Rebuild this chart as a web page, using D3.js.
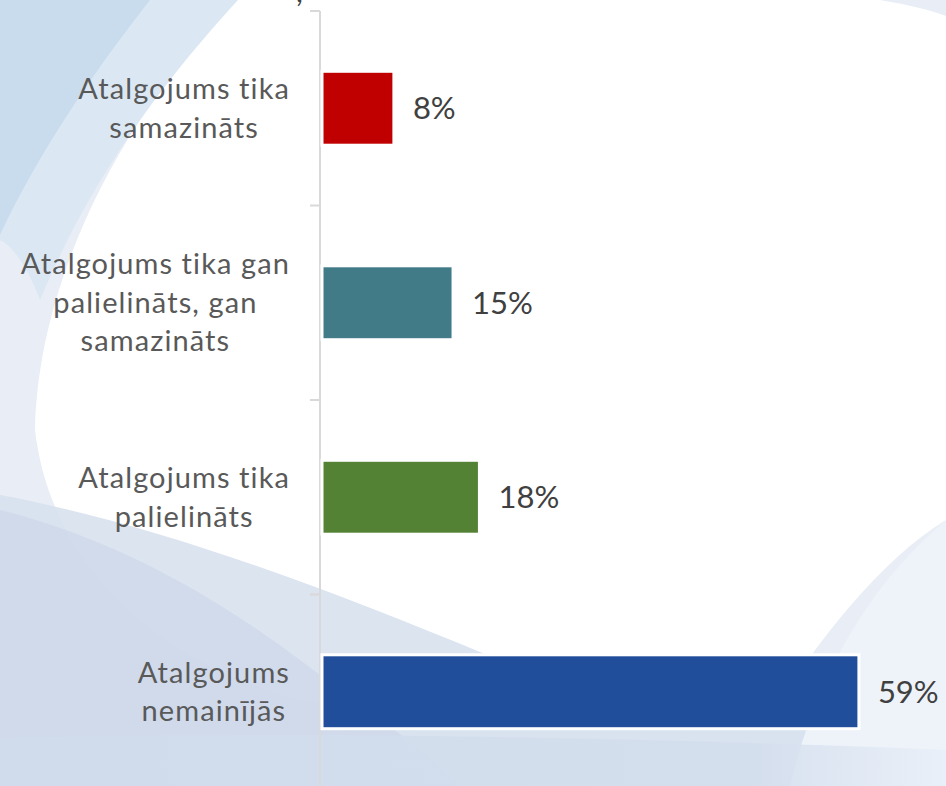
<!DOCTYPE html>
<html>
<head>
<meta charset="utf-8">
<script src="https://cdn.jsdelivr.net/npm/d3@7"></script>
<style>
  html, body { margin: 0; padding: 0; background: #ffffff; }
  svg { display: block; }
</style>
</head>
<body>
<svg id="chart" width="946" height="786"></svg>
<script>
// ---- data ----
const categories = [
  ["Atalgojums tika", "samazināts"],
  ["Atalgojums tika gan", "palielināts, gan", "samazināts"],
  ["Atalgojums tika", "palielināts"],
  ["Atalgojums", "nemainījās"]
];
const values = [7.9, 14.4, 17.3, 59.0];          // bar lengths (%)
const valueLabels = ["8%", "15%", "18%", "59%"];  // printed labels
const barColors = ["#c00000", "#427b88", "#548235", "#214e9b"];

const W = 946, H = 786;
const svg = d3.select("#chart");

// gradient for bottom band
const defs = svg.append("defs");
const grad = defs.append("linearGradient").attr("id", "bandGrad").attr("x1", "0").attr("x2", "1");
grad.append("stop").attr("offset", "0").attr("stop-color", "#d0dcec");
grad.append("stop").attr("offset", "0.8").attr("stop-color", "#d3deed");
grad.append("stop").attr("offset", "1").attr("stop-color", "#e9eff8");

// ---- background decoration ----
const bg = svg.append("g");
bg.append("rect").attr("width", W).attr("height", H).attr("fill", "#e8edf6");
// big white area
bg.append("path").attr("fill", "#ffffff")
  .attr("d", "M235,0 L880,0 C910,5 930,10 946,16 L946,520 C880,560 820,640 780,700 C700,720 500,720 300,700 C150,660 50,560 35,430 C38,280 120,120 235,0Z");
// top-left swooshes
bg.append("path").attr("fill", "#dbe8f4")
  .attr("d", "M140,0 L238,0 C160,85 90,180 40,300 C25,260 10,245 0,240 L0,230 C40,140 90,60 140,0Z");
bg.append("path").attr("fill", "#c9dcee")
  .attr("d", "M0,0 L150,0 C95,70 40,150 0,235Z");
// bottom sheets
bg.append("path").attr("fill", "#d6dfed").attr("opacity", 0.85)
  .attr("d", "M0,495 C160,525 330,590 480,652 C600,700 780,725 946,738 L946,786 L0,786Z");
bg.append("path").attr("fill", "#c9d5e7").attr("opacity", 0.6)
  .attr("d", "M0,510 C120,540 220,600 300,660 C360,705 420,745 460,786 L0,786Z");
bg.append("path").attr("fill", "#eef3fa")
  .attr("d", "M946,520 C880,575 820,660 790,786 L946,786Z");
bg.append("path").attr("fill", "url(#bandGrad)").attr("opacity", 0.85)
  .attr("d", "M0,738 C300,732 600,736 946,750 L946,786 L0,786Z");

// ---- scales ----
const y = d3.scaleBand()
  .domain(d3.range(categories.length))
  .range([11, 789])
  .paddingInner(0.62)
  .paddingOuter(0.31);

const x = d3.scaleLinear().domain([0, 70]).range([322, 322 + 70 * 9.1]);

const fontFam = "Lato, 'Noto Sans', sans-serif";

// cut-off title fragment at top
svg.append("text").attr("x", 296).attr("y", 2)
  .attr("font-family", fontFam).attr("font-size", 30).attr("fill", "#404040").text(",");

// ---- axis (category axis with ticks at band boundaries) ----
const axisG = svg.append("g");
const step = y.step();
const boundaries = d3.range(categories.length + 1).map(i => y.range()[0] + i * step);
axisG.append("line")
  .attr("x1", 320).attr("x2", 320)
  .attr("y1", y.range()[0]).attr("y2", y.range()[1])
  .attr("stroke", "#d9d9d9").attr("stroke-width", 2);
axisG.selectAll("line.tick").data(boundaries).join("line")
  .attr("class", "tick")
  .attr("x1", 310).attr("x2", 320)
  .attr("y1", d => d).attr("y2", d => d)
  .attr("stroke", "#d9d9d9").attr("stroke-width", 2);

// ---- bars ----
svg.append("g").selectAll("rect").data(values).join("rect")
  .attr("x", x(0))
  .attr("y", (d, i) => y(i))
  .attr("width", d => x(d) - x(0))
  .attr("height", y.bandwidth())
  .attr("fill", (d, i) => barColors[i])
  .attr("stroke", "#ffffff").attr("stroke-width", 3);

// ---- value labels ----
svg.append("g").selectAll("text").data(values).join("text")
  .attr("x", d => x(d) + 19)
  .attr("y", (d, i) => y(i) + y.bandwidth() / 2 + 11)
  .attr("font-family", fontFam).attr("font-size", 31)
  .attr("fill", "#404040")
  .text((d, i) => valueLabels[i]);

// ---- category labels (multi-line, centered block, right aligned to axis) ----
const lineH = 38.5;
const labG = svg.append("g");
categories.forEach((lines, i) => {
  const cy = y(i) + y.bandwidth() / 2;
  const t = labG.append("text")
    .attr("font-family", fontFam).attr("font-size", 29)
    .attr("letter-spacing", 1.1)
    .attr("fill", "#595959")
    .attr("text-anchor", "middle");
  const n = lines.length;
  lines.forEach((ln, j) => {
    t.append("tspan").attr("x", 0)
      .attr("y", cy + (j - (n - 1) / 2) * lineH + 10)
      .text(ln);
  });
  const w = t.node().getBBox().width;
  t.attr("transform", `translate(${290 - w / 2},0)`);
});
</script>
</body>
</html>
